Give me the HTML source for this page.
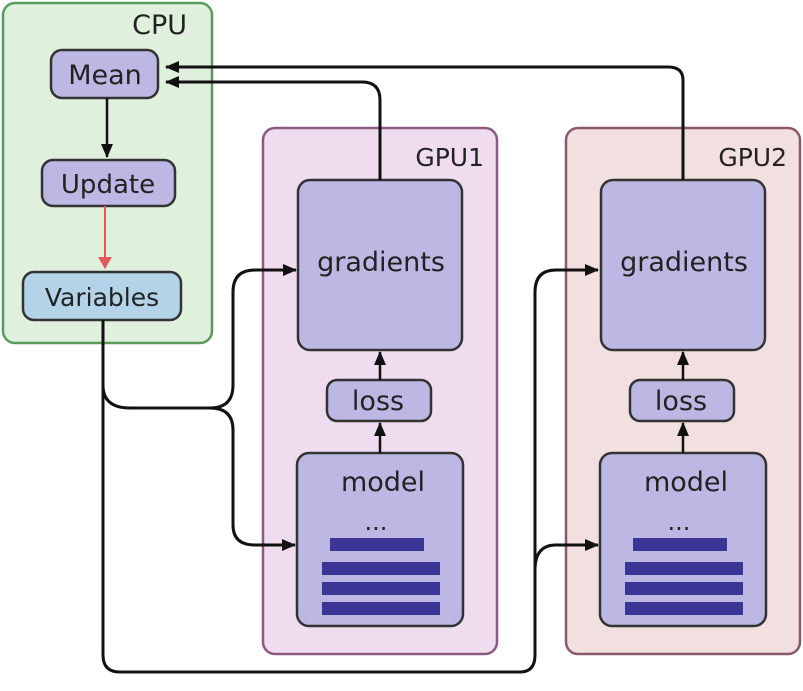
<!DOCTYPE html>
<html><head><style>body{margin:0;background:#fff}svg text{font-family:"DejaVu Sans","Liberation Sans",sans-serif;fill:#222}</style></head><body>
<svg width="803" height="686" viewBox="0 0 803 686" xmlns="http://www.w3.org/2000/svg">
<defs><marker id="a" markerWidth="14" markerHeight="14" refX="13" refY="7" orient="auto" markerUnits="userSpaceOnUse"><path d="M0,1 L14,7 L0,13 z" fill="#111"/></marker>
<marker id="r" markerWidth="12" markerHeight="14" refX="11" refY="7" orient="auto" markerUnits="userSpaceOnUse"><path d="M0,0 L12,7 L0,14 z" fill="#e05a5a"/></marker></defs>
<rect x="3" y="3" width="209" height="340" rx="12" fill="#dff0dd" stroke="#5a9a5a" stroke-width="2.5"/>
<text x="187" y="34" font-size="27" text-anchor="end">CPU</text>
<rect x="263" y="128" width="234" height="526" rx="12" fill="#f0dcef" stroke="#8a5a80" stroke-width="2.5"/>
<text x="484" y="166" font-size="25" text-anchor="end">GPU1</text>
<rect x="566" y="128" width="234" height="526" rx="12" fill="#f2dfe0" stroke="#8a5a6a" stroke-width="2.5"/>
<text x="787" y="166" font-size="25" text-anchor="end">GPU2</text>
<rect x="51" y="50" width="107" height="48" rx="11" fill="#bdb8e3" stroke="#333" stroke-width="2.5"/>
<text x="105" y="84" font-size="27" text-anchor="middle">Mean</text>
<rect x="42" y="160" width="133" height="46" rx="11" fill="#bdb8e3" stroke="#333" stroke-width="2.5"/>
<text x="108" y="193" font-size="26" text-anchor="middle">Update</text>
<rect x="23" y="272" width="158" height="48" rx="11" fill="#b3d4e8" stroke="#333" stroke-width="2.5"/>
<text x="102" y="306" font-size="25" text-anchor="middle">Variables</text>
<line x1="107" y1="98" x2="107" y2="157" stroke="#111" stroke-width="2.5" marker-end="url(#a)"/>
<line x1="105" y1="206" x2="105" y2="268" stroke="#e05a5a" stroke-width="2" marker-end="url(#r)"/>
<g id="g1">
<rect x="298" y="180" width="164" height="170" rx="12" fill="#bdb8e3" stroke="#333" stroke-width="2.5"/>
<text x="381" y="271" font-size="27" text-anchor="middle">gradients</text>
<rect x="327" y="380" width="104" height="41" rx="10" fill="#bdb8e3" stroke="#333" stroke-width="2.5"/>
<text x="378" y="410" font-size="27" text-anchor="middle">loss</text>
<rect x="297" y="453" width="166" height="173" rx="12" fill="#bdb8e3" stroke="#333" stroke-width="2.5"/>
<text x="383" y="491" font-size="27" text-anchor="middle">model</text>
<text x="376" y="530" font-size="24" text-anchor="middle">...</text>
<rect x="330" y="538" width="94" height="13" fill="#3b3596"/>
<rect x="322" y="562" width="118" height="13" fill="#3b3596"/>
<rect x="322" y="582" width="118" height="13" fill="#3b3596"/>
<rect x="322" y="602" width="118" height="13" fill="#3b3596"/>
<line x1="380" y1="453" x2="380" y2="423" stroke="#111" stroke-width="2.5" marker-end="url(#a)"/>
<line x1="380" y1="380" x2="380" y2="352" stroke="#111" stroke-width="2.5" marker-end="url(#a)"/>
</g>
<use href="#g1" x="303"/>
<g fill="none" stroke="#111" stroke-width="3">
<path d="M683,180 V80 Q683,67 668,67 H166" marker-end="url(#a)"/>
<path d="M380,180 V100 Q380,82 362,82 H166" marker-end="url(#a)"/>
<path d="M103,320 V385 Q103,408 130,408 H210 Q233,408 233,385 V292 Q233,270 255,270 H296" marker-end="url(#a)"/>
<path d="M210,408 Q233,408 233,430 V525 Q233,545 255,545 H295" marker-end="url(#a)"/>
<path d="M103,385 V655 Q103,672 120,672 H520 Q535,672 535,655 V292 Q535,270 556,270 H598" marker-end="url(#a)"/>
<path d="M535,570 Q535,545 556,545 H598" marker-end="url(#a)"/>
</g>
</svg>
</body></html>
